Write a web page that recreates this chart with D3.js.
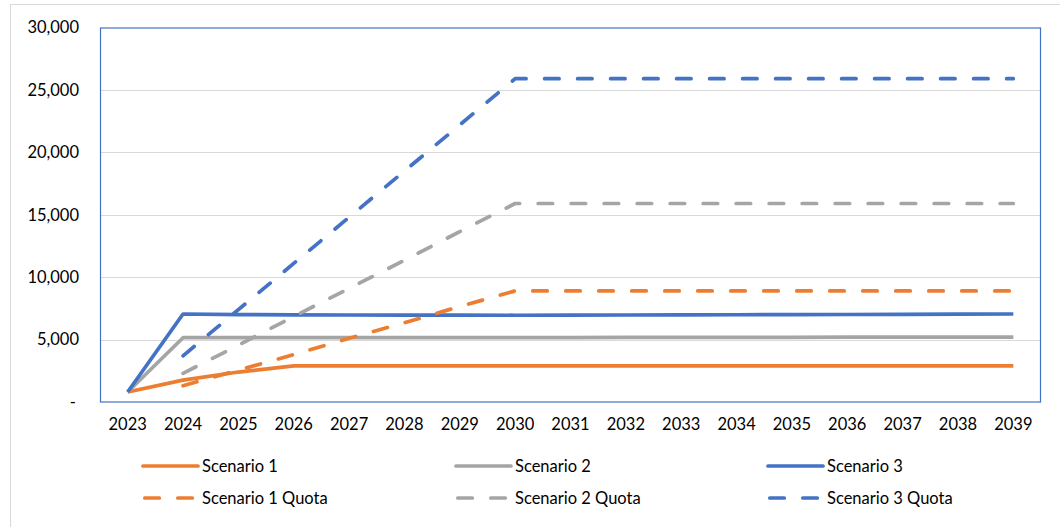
<!DOCTYPE html>
<html>
<head>
<meta charset="utf-8">
<script src="https://cdn.jsdelivr.net/npm/d3@7/dist/d3.min.js"></script>
<style>
  html, body { margin: 0; padding: 0; background: #fff; }
  svg { display: block; }
  text { font-family: Lato, "Open Sans", sans-serif; fill: #000; }
</style>
</head>
<body>
<svg id="chart" width="1060" height="527"></svg>
<script>
// Years on the category axis
const years = ["2023","2024","2025","2026","2027","2028","2029","2030","2031","2032","2033","2034","2035","2036","2037","2038","2039"];

// Series values (null = no value for that year)
const scenario1 = [800, 1750, 2400, 2900, 2900, 2900, 2900, 2900, 2900, 2900, 2900, 2900, 2900, 2900, 2900, 2900, 2900];
const scenario2 = [800, 5150, 5150, 5150, 5150, 5150, 5150, 5150, 5160, 5170, 5170, 5180, 5180, 5190, 5190, 5200, 5200];
const scenario3 = [800, 7050, 7000, 6980, 6970, 6960, 6960, 6950, 6960, 6970, 6980, 6990, 7000, 7010, 7020, 7040, 7050];
const scenario1Quota = [null, 1300, 2550, 3800, 5100, 6350, 7650, 8900, 8900, 8900, 8900, 8900, 8900, 8900, 8900, 8900, 8900];
const scenario2Quota = [null, 2300, 4550, 6850, 9100, 11350, 13650, 15900, 15900, 15900, 15900, 15900, 15900, 15900, 15900, 15900, 15900];
const scenario3Quota = [null, 3700, 7400, 11100, 14800, 18500, 22200, 25900, 25900, 25900, 25900, 25900, 25900, 25900, 25900, 25900, 25900];

// Y axis ticks
const yTicks = [0, 5000, 10000, 15000, 20000, 25000, 30000];

const series = [
  { name: "Scenario 1", values: scenario1, color: "#ED7D31", dashed: false },
  { name: "Scenario 2", values: scenario2, color: "#A5A5A5", dashed: false },
  { name: "Scenario 3", values: scenario3, color: "#4472C4", dashed: false },
  { name: "Scenario 1 Quota", values: scenario1Quota, color: "#ED7D31", dashed: true },
  { name: "Scenario 2 Quota", values: scenario2Quota, color: "#A5A5A5", dashed: true },
  { name: "Scenario 3 Quota", values: scenario3Quota, color: "#4472C4", dashed: true }
];

const svg = d3.select("#chart");
const plot = { left: 100, right: 1041, top: 27.5, bottom: 402 };
const fontSize = "16.5px";

// Outer chart frame
svg.append("rect")
  .attr("x", 10.5).attr("y", 4.5)
  .attr("width", 1060).attr("height", 540)
  .attr("fill", "none").attr("stroke", "#D9D9D9").attr("stroke-width", 1);

const x = d3.scaleBand().domain(years).range([plot.left, plot.right]).padding(0);
const y = d3.scaleLinear().domain([0, 30000]).range([plot.bottom, plot.top]);

// Horizontal gridlines
svg.append("g")
  .selectAll("line")
  .data(yTicks.filter(d => d > 0 && d < 30000))
  .join("line")
  .attr("x1", plot.left).attr("x2", plot.right)
  .attr("y1", d => Math.round(y(d)) + 0.5).attr("y2", d => Math.round(y(d)) + 0.5)
  .attr("stroke", "#D9D9D9").attr("stroke-width", 1);

// Y axis labels
const fmt = d3.format(",");
const yAxis = d3.axisLeft(y).tickValues(yTicks).tickSize(0).tickPadding(21)
  .tickFormat(d => d === 0 ? "-" : fmt(d));
const gy = svg.append("g").attr("transform", `translate(${plot.left},0)`).call(yAxis);
gy.select(".domain").remove();
gy.selectAll("text").style("font-size", fontSize).style("font-family", "Lato, sans-serif").attr("fill", "#000");
gy.selectAll(".tick").filter(d => d === 0).select("text").attr("dx", -3);

// X axis labels
const xAxis = d3.axisBottom(x).tickSize(0).tickPadding(16);
const gx = svg.append("g").attr("transform", `translate(0,${plot.bottom})`).call(xAxis);
gx.select(".domain").remove();
gx.selectAll("text").style("font-size", fontSize).style("font-family", "Lato, sans-serif").attr("fill", "#000");

// Plot area border
svg.append("rect")
  .attr("x", plot.left + 0.5).attr("y", plot.top + 0.5)
  .attr("width", plot.right - plot.left - 1).attr("height", plot.bottom - plot.top - 0.5)
  .attr("fill", "none").attr("stroke", "#4472C4").attr("stroke-width", 1.2);

// Series lines
const line = d3.line()
  .defined(d => d.v !== null)
  .x(d => x(d.year) + x.bandwidth() / 2)
  .y(d => y(d.v));

const dash = "14.5,18.5";
svg.append("g")
  .selectAll("path")
  .data(series)
  .join("path")
  .attr("d", s => line(years.map((yr, i) => ({ year: yr, v: s.values[i] }))))
  .attr("fill", "none")
  .attr("stroke", s => s.color)
  .attr("stroke-width", 3.7)
  .attr("stroke-linecap", s => s.dashed ? "round" : "butt")
  .attr("stroke-linejoin", "round")
  .attr("stroke-dasharray", s => s.dashed ? dash : null);

// Legend: three columns, two rows
const legendCols = [143, 456, 768];
const legendRows = [466, 498];
const legend = svg.append("g")
  .selectAll("g")
  .data(series)
  .join("g")
  .attr("transform", (s, i) => `translate(${legendCols[i % 3]},${legendRows[Math.floor(i / 3)]})`);

legend.append("line")
  .attr("x1", s => s.dashed ? 1.8 : 0).attr("x2", 55)
  .attr("y1", 0).attr("y2", 0)
  .attr("stroke", s => s.color)
  .attr("stroke-width", 3.7)
  .attr("stroke-linecap", "round")
  .attr("stroke-dasharray", s => s.dashed ? dash : null);

legend.append("text")
  .attr("x", 59).attr("y", 0).attr("dy", "0.35em")
  .style("font-size", fontSize)
  .text(s => s.name);
</script>
</body>
</html>
